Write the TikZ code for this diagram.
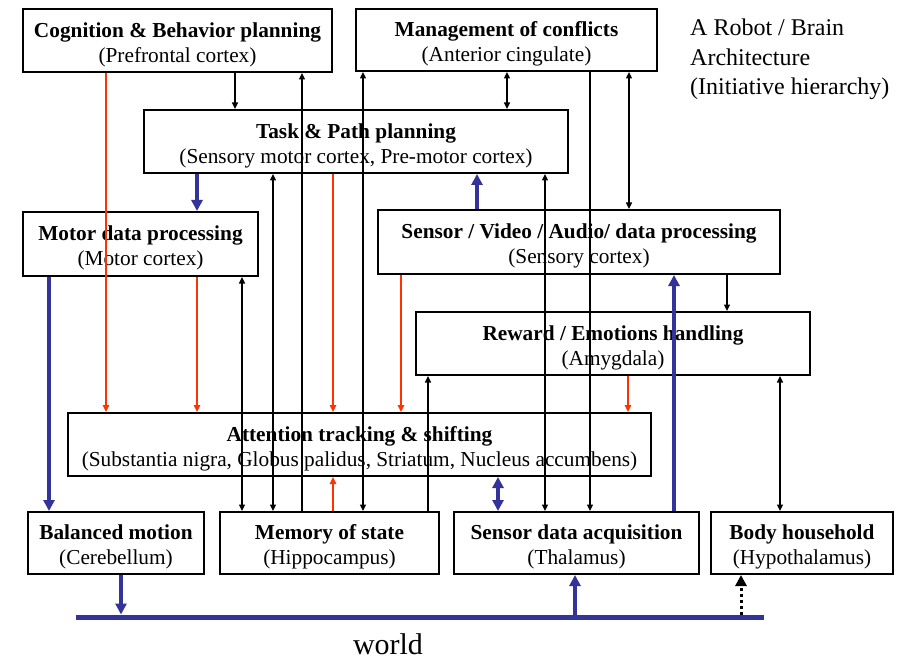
\documentclass[tikz,border=0pt]{standalone}
\usepackage{fontspec}
\setmainfont{Liberation Serif}
\usetikzlibrary{arrows.meta}
\definecolor{navy}{RGB}{51,51,153}
\definecolor{ored}{RGB}{255,51,0}
\newcommand{\boxtext}[2]{\rule{0pt}{23pt}\textbf{#1}\\(#2)}
\begin{document}
\begin{tikzpicture}[x=1pt,y=-1pt,
  box/.style={draw, line width=2pt, inner sep=0pt, align=center, fill=white,
    font=\fontsize{21.3}{25}\selectfont},
  ktip/.tip={Triangle[length=6.5pt,width=6pt]},
  rtip/.tip={Triangle[length=7pt,width=6.5pt]},
  btip/.tip={Triangle[length=11pt,width=11pt]},
  blk/.style={line width=1.4pt, -ktip},
  blkboth/.style={line width=1.4pt, ktip-ktip},
  redarr/.style={draw=ored, line width=1.4pt, -rtip, color=ored},
  bluearr/.style={draw=navy, line width=4pt, -btip, color=navy},
  blueboth/.style={draw=navy, line width=4pt, btip-btip, color=navy},
  dotarr/.style={line width=3pt, dash pattern=on 3pt off 3pt, -btip}
]
\useasboundingbox (0,0) rectangle (906,658);

% boxes
\node[box, minimum width=309pt, minimum height=63pt] (cog) at (177.5,40.5)
  {\boxtext{Cognition \& Behavior planning}{Prefrontal cortex}};
\node[box, minimum width=301pt, minimum height=62pt] (mgmt) at (506.5,40)
  {\boxtext{Management of conflicts}{Anterior cingulate}};
\node[box, minimum width=424pt, minimum height=63pt] (task) at (356,141.5)
  {\boxtext{Task \& Path planning}{Sensory motor cortex, Pre-motor cortex}};
\node[box, minimum width=235pt, minimum height=64pt] (motor) at (140.5,244)
  {\boxtext{Motor data processing}{Motor cortex}};
\node[box, minimum width=402pt, minimum height=64pt] (sensv) at (579,242)
  {\boxtext{Sensor / Video / Audio/ data processing}{Sensory cortex}};
\node[box, minimum width=394pt, minimum height=63pt] (reward) at (613,343.5)
  {\boxtext{Reward / Emotions handling}{Amygdala}};
\node[box, minimum width=583pt, minimum height=63pt] (attn) at (359.5,444.5)
  {\boxtext{Attention tracking \& shifting}{Substantia nigra, Globus palidus, Striatum, Nucleus accumbens}};
\node[box, minimum width=176pt, minimum height=62pt] (bal) at (116,543)
  {\boxtext{Balanced motion}{Cerebellum}};
\node[box, minimum width=219pt, minimum height=62pt] (mem) at (329.5,543)
  {\boxtext{Memory of state}{Hippocampus}};
\node[box, minimum width=245pt, minimum height=62pt] (sacq) at (576.5,543)
  {\boxtext{Sensor data acquisition}{Thalamus}};
\node[box, minimum width=182pt, minimum height=62pt] (body) at (802,543)
  {\boxtext{Body household}{Hypothalamus}};

% title and world
\node[anchor=north west, align=left, inner sep=0pt,
  font=\fontsize{24}{29.5}\selectfont] (title) at (690,19)
  {A Robot / Brain\\Architecture\\(Initiative hierarchy)};
\node[anchor=base, inner sep=0pt, font=\fontsize{30}{30}\selectfont] (world) at (388,654) {world};

% world line
\coordinate (wL) at (76,617);
\coordinate (wR) at (764,617);
\draw[navy, line width=5pt] (wL) -- (wR);
\coordinate (w1) at (121,614.5);
\coordinate (w2) at (575,614.5);
\coordinate (w3) at (741,614.5);

% red connectors
\draw[redarr] (cog.south -| 106,0) -- (attn.north -| 106,0);
\draw[redarr] (task.south -| 333,0) -- (attn.north -| 333,0);
\draw[redarr] (mem.north -| 333,0) -- (attn.south -| 333,0);
\draw[redarr] (motor.south -| 197,0) -- (attn.north -| 197,0);
\draw[redarr] (sensv.south -| 401,0) -- (attn.north -| 401,0);
\draw[redarr] (reward.south -| 628,0) -- (attn.north -| 628,0);

% black connectors
\draw[blk] (cog.south -| 235,0) -- (task.north -| 235,0);
\draw[blk] (mem.north -| 302,0) -- (cog.south -| 302,0);
\draw[blkboth] (mgmt.south -| 363,0) -- (mem.north -| 363,0);
\draw[blkboth] (task.south -| 273,0) -- (mem.north -| 273,0);
\draw[blkboth] (motor.south -| 242,0) -- (mem.north -| 242,0);
\draw[blk] (mem.north -| 428,0) -- (reward.south -| 428,0);
\draw[blkboth] (task.south -| 545,0) -- (sacq.north -| 545,0);
\draw[blk] (mgmt.south -| 590,0) -- (sacq.north -| 590,0);
\draw[blkboth] (mgmt.south -| 629,0) -- (sensv.north -| 629,0);
\draw[blkboth] (mgmt.south -| 507,0) -- (task.north -| 507,0);
\draw[blk] (sensv.south -| 727,0) -- (reward.north -| 727,0);
\draw[blkboth] (reward.south -| 780,0) -- (body.north -| 780,0);

% blue connectors
\draw[bluearr] (task.south -| 197,0) -- (motor.north -| 197,0);
\draw[bluearr] (sensv.north -| 477,0) -- (task.south -| 477,0);
\draw[bluearr] (sacq.north -| 674,0) -- (sensv.south -| 674,0);
\draw[blueboth] (attn.south -| 498,0) -- (sacq.north -| 498,0);
\draw[bluearr] (motor.south -| 49,0) -- (bal.north -| 49,0);
\draw[bluearr] (bal.south -| 121,0) -- (w1);
\draw[bluearr] (w2) -- (sacq.south -| 575,0);
\draw[dotarr] (w3) -- (body.south -| 741,0);
\end{tikzpicture}
\end{document}
